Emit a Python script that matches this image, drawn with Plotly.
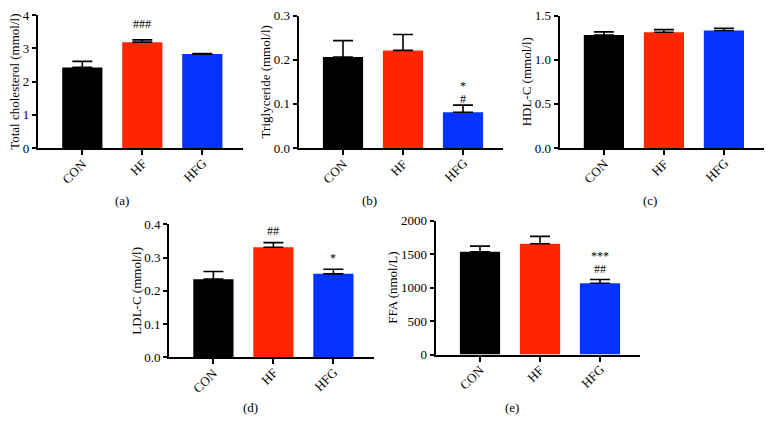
import plotly.graph_objects as go

W, H = 770, 434

groups = ["CON", "HF", "HFG"]
colors = ["#000000", "#FF2600", "#0433FF"]

tc_mean = [2.43, 3.19, 2.83]
tc_err = [0.18, 0.07, 0.02]
tg_mean = [0.206, 0.221, 0.081]
tg_err = [0.037, 0.036, 0.016]
hdl_mean = [1.28, 1.31, 1.33]
hdl_err = [0.035, 0.03, 0.025]
ldl_mean = [0.235, 0.331, 0.251]
ldl_err = [0.023, 0.014, 0.014]
ffa_mean = [1535, 1655, 1065]
ffa_err = [85, 110, 55]

y_titles = ["Total cholesterol (mmol/l)", "Triglyceride (mmol/l)", "HDL-C (mmol/l)",
            "LDL-C (mmol/l)", "FFA (nmol/L)"]
panel_labels = ["(a)", "(b)", "(c)", "(d)", "(e)"]
y_max = [4, 0.3, 1.5, 0.4, 2000]
y_step = [1, 0.1, 0.5, 0.1, 500]
y_fmt = ["d", ".1f", ".1f", ".1f", "d"]

# significance marks: (panel index, group index, [lines top->bottom], pixel lift)
sig_marks = [
    (0, 1, ["###"], 5),
    (1, 2, ["*", "#"], -5),
    (3, 1, ["##"], 1),
    (3, 2, ["*"], 0),
    (4, 2, ["***", "##"], 0),
]

means = [tc_mean, tg_mean, hdl_mean, ldl_mean, ffa_mean]
errs = [tc_err, tg_err, hdl_err, ldl_err, ffa_err]

# pixel boxes: (x_left, x_right, y_top, y_bottom)
boxes = [
    (37.9, 242.5, 15.3, 148.0),
    (298.6, 503.2, 15.5, 148.0),
    (559.5, 764.1, 15.5, 148.0),
    (169.0, 373.6, 224.3, 357.3),
    (435.6, 640.2, 220.7, 354.5),
]
label_pos = [(122, 200.5), (369, 200.5), (650, 200.5), (250, 407.5), (512, 407.5)]

FONT = "Liberation Serif"
fig = go.Figure()

layout = dict(
    width=W, height=H, margin=dict(l=0, r=0, t=0, b=0),
    paper_bgcolor="white", plot_bgcolor="white",
    showlegend=False, bargap=0.33,
    font=dict(family=FONT, size=13, color="black"),
)
annotations = []

for i in range(5):
    sfx = "" if i == 0 else str(i + 1)
    xl, xr, yt, yb = boxes[i]
    fig.add_trace(go.Bar(
        x=groups, y=means[i], marker=dict(color=colors, line=dict(width=0)),
        error_y=dict(type="data", array=errs[i], arrayminus=[0] * 3, symmetric=False,
                     color="black", thickness=1.6, width=10),
        xaxis="x" + sfx, yaxis="y" + sfx, hoverinfo="skip",
    ))
    ticks = []
    v = 0
    while v <= y_max[i] + 1e-9:
        ticks.append(round(v, 6))
        v += y_step[i]
    layout["xaxis" + sfx] = dict(
        domain=[xl / W, xr / W], range=[-0.74, 2.67], anchor="y" + sfx,
        showline=True, linecolor="black", linewidth=2, ticks="outside",
        ticklen=5, tickwidth=1.6, tickcolor="black", showticklabels=False,
        showgrid=False, zeroline=False, fixedrange=True, automargin=False,
    )
    layout["yaxis" + sfx] = dict(
        domain=[1 - yb / H, 1 - yt / H], range=[0, y_max[i]], anchor="x" + sfx,
        showline=True, linecolor="black", linewidth=2, ticks="outside",
        ticklen=4, tickwidth=1.6, tickcolor="black",
        tickvals=ticks, tickformat=y_fmt[i],
        showgrid=False, zeroline=False, fixedrange=True, automargin=False,
        tickfont=dict(family=FONT, size=13, color="black"),
        title=dict(text=y_titles[i], standoff=0, font=dict(family=FONT, size=13, color="black")),
    )
    # rotated category labels
    for g in groups:
        annotations.append(dict(
            text=g, x=g, y=0, xref="x" + sfx, yref="y" + sfx, showarrow=False,
            textangle=-45, xanchor="right", yanchor="top", xshift=10, yshift=-5,
            font=dict(family=FONT, size=13, color="black"),
        ))
    lx, ly = label_pos[i]
    annotations.append(dict(
        text=panel_labels[i], x=lx / W, y=1 - ly / H, xref="paper", yref="paper",
        showarrow=False, xanchor="center", yanchor="middle",
        font=dict(family=FONT, size=13, color="black"),
    ))

for (p, g, lines, lift) in sig_marks:
    sfx = "" if p == 0 else str(p + 1)
    top = means[p][g] + errs[p][g]
    txt = "<br>".join('<span style="font-size:12px">%s</span>' % t for t in lines)
    annotations.append(dict(
        text=txt, x=groups[g], y=top, xref="x" + sfx, yref="y" + sfx,
        showarrow=False, xanchor="center", yanchor="bottom", yshift=2 + lift,
        font=dict(family=FONT, size=10, color="black"),
    ))

layout["annotations"] = annotations
fig.update_layout(**layout)
fig.write_html(
    "out.html",
    config={"displayModeBar": False},
    post_script="document.body.style.margin='0';document.body.style.padding='0';"
                "document.body.style.overflow='hidden';",
)
